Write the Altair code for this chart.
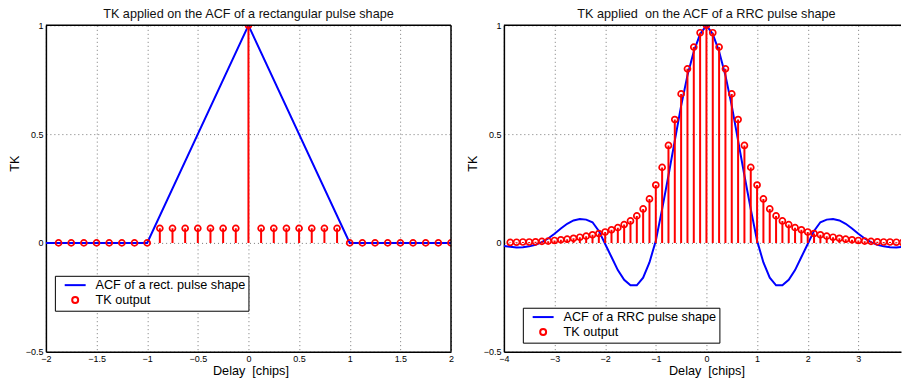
import altair as alt
import numpy as np
import pandas as pd

FONT = "Liberation Sans"
BLUE = "#0000ff"
RED = "#ff0000"
TK_LABEL = "TK output"
# short horizontal dash used as the legend swatch of the ACF curve
LINE_SWATCH = "M-3.5,0L3.5,0"

# ---- rectangular pulse: ACF (triangle) and TK output, 1/8-chip sampling ----
rect_acf_delay = [-2.0, -1.0, 0.0, 1.0, 2.0]
rect_acf = [0.0, 0.0, 1.0, 0.0, 0.0]

rect_tk_delay = np.arange(-15, 17) / 8.0          # -1.875 ... 2.0 chips
rect_tk = [0, 0, 0, 0, 0, 0, 0, 0,
           0.0667, 0.0667, 0.0667, 0.0667, 0.0667, 0.0667, 0.0667,
           1.0,
           0.0667, 0.0667, 0.0667, 0.0667, 0.0667, 0.0667, 0.0667,
           0, 0, 0, 0, 0, 0, 0, 0, 0]

# ---- RRC pulse: ACF and TK output, 1/8-chip sampling ----
rrc_acf_delay = np.arange(-32, 33) / 8.0          # -4 ... 4 chips
rrc_acf = [-0.014, -0.018, -0.021, -0.020, -0.016, -0.009, 0.003, 0.020,
           0.042, 0.066, 0.088, 0.103, 0.110, 0.107, 0.095, 0.055,
           -0.005, -0.065, -0.125, -0.170, -0.195, -0.195, -0.160, -0.090,
           0.010, 0.155, 0.310, 0.470, 0.630, 0.770, 0.880, 0.960,
           1.000,
           0.960, 0.880, 0.770, 0.630, 0.470, 0.310, 0.155, 0.010,
           -0.090, -0.160, -0.195, -0.195, -0.170, -0.125, -0.065, -0.005,
           0.055, 0.095, 0.107, 0.110, 0.103, 0.088, 0.066, 0.042,
           0.020, 0.003, -0.009, -0.016, -0.020, -0.021, -0.018, -0.014]

rrc_tk_delay = np.arange(-31, 33) / 8.0           # -3.875 ... 4 chips
rrc_tk = [0.002, 0.003, 0.004, 0.004, 0.005, 0.007, 0.008, 0.011,
          0.014, 0.017, 0.021, 0.026, 0.031, 0.037, 0.043, 0.050,
          0.060, 0.070, 0.084, 0.101, 0.124, 0.156, 0.202, 0.266,
          0.347, 0.448, 0.567, 0.685, 0.800, 0.900, 0.966,
          1.000,
          0.966, 0.900, 0.800, 0.685, 0.567, 0.448, 0.347, 0.266,
          0.202, 0.156, 0.124, 0.101, 0.084, 0.070, 0.060, 0.050,
          0.043, 0.037, 0.031, 0.026, 0.021, 0.017, 0.014, 0.011,
          0.008, 0.007, 0.005, 0.004, 0.004, 0.003, 0.002, 0.002]

y_ticks = [-0.5, 0, 0.5, 1]
rect_x_ticks = [-2, -1.5, -1, -0.5, 0, 0.5, 1, 1.5, 2]
rrc_x_ticks = [-4, -3, -2, -1, 0, 1, 2, 3]

HEIGHT = 327


def panel(acf_delay, acf_vals, tk_delay, tk_vals, title, acf_label,
          x_domain, x_ticks, width, legend_xy, x_title_pos, title_dx, right_frame):
    acf_df = pd.DataFrame({"delay": acf_delay, "value": acf_vals, "series": acf_label})
    tk_df = pd.DataFrame({"delay": tk_delay, "value": tk_vals, "series": TK_LABEL})

    names = [acf_label, TK_LABEL]
    stroke_scale = alt.Scale(domain=names, range=[BLUE, RED])
    shape_scale = alt.Scale(domain=names, range=[LINE_SWATCH, "circle"])
    legend = alt.Legend(
        title=None, orient="none", legendX=legend_xy[0], legendY=legend_xy[1],
        strokeColor="black", fillColor="white", padding=3, cornerRadius=0,
        labelFont=FONT, labelFontSize=12.7, labelColor="black", labelLimit=400,
        symbolSize=36, symbolStrokeWidth=2, symbolOffset=11, labelOffset=14,
        rowPadding=0, symbolFillColor="transparent",
    )

    x = alt.X("delay:Q",
              scale=alt.Scale(domain=x_domain, nice=False, zero=False),
              axis=alt.Axis(values=x_ticks, format="~g", title="Delay\u00a0 [chips]",
                            titleX=x_title_pos, titlePadding=1, labelFlush=False))
    y = alt.Y("value:Q",
              scale=alt.Scale(domain=[-0.5, 1], nice=False, zero=False),
              axis=alt.Axis(values=y_ticks, format="~g", title="TK", titleY=138,
                            titlePadding=4))

    acf_line = alt.Chart(acf_df).mark_line(strokeWidth=2, clip=True).encode(
        x=x, y=y,
        stroke=alt.Stroke("series:N", scale=stroke_scale, legend=legend),
    )
    stems = alt.Chart(tk_df).mark_rule(color=RED, strokeWidth=2, clip=True).encode(
        x="delay:Q", y="value:Q", y2=alt.datum(0),
    )
    heads = alt.Chart(tk_df).mark_point(filled=False, size=36, strokeWidth=1.7,
                                        opacity=1, clip=True).encode(
        x="delay:Q", y="value:Q",
        stroke=alt.Stroke("series:N", scale=stroke_scale, legend=legend),
        shape=alt.Shape("series:N", scale=shape_scale, legend=legend),
    )

    one = alt.Data(values=[{}])
    frame = [
        alt.Chart(one).mark_rule(color="black", strokeWidth=1.5).encode(
            x=alt.value(0), x2=alt.value(width), y=alt.value(0)),
    ]
    if right_frame:
        frame.append(alt.Chart(one).mark_rule(color="black", strokeWidth=1.5).encode(
            x=alt.value(width), y=alt.value(0), y2=alt.value(HEIGHT)))

    return alt.layer(acf_line, stems, heads, *frame).properties(
        width=width, height=HEIGHT,
        title=alt.TitleParams(title, fontSize=12.7, font=FONT, fontWeight="normal",
                              color="#111", anchor="middle", dx=title_dx, offset=1),
        view=alt.ViewBackground(stroke=None),
    )


left = panel(rect_acf_delay, rect_acf, rect_tk_delay, rect_tk,
             "TK applied on the ACF of a rectangular pulse shape",
             "ACF of a rect. pulse shape",
             [-2, 2], rect_x_ticks, 406, (9, 251), 205, 0, True)

right = panel(rrc_acf_delay, rrc_acf, rrc_tk_delay, rrc_tk,
              "TK applied\u00a0 on the ACF of a RRC pulse shape",
              "ACF of a RRC pulse shape",
              [-4, 3.842], rrc_x_ticks, 398, (19, 283), 203, 4, False)

chart = alt.hconcat(left, right, spacing=12).resolve_scale(
    stroke="independent", shape="independent"
).resolve_legend(stroke="independent", shape="independent").properties(
    padding={"left": 8, "top": 7, "right": 0, "bottom": 0},
    background="white",
).configure_axis(
    labelFont=FONT, labelFontSize=9, labelColor="black", labelPadding=3,
    titleFont=FONT, titleFontSize=12.7, titleFontWeight="normal", titleColor="black",
    domainColor="black", domainWidth=1.5, ticks=False,
    grid=True, gridColor="#777777", gridDash=[1, 3], gridWidth=1,
).configure_view(stroke=None)

chart.save("out.html", embed_options={"renderer": "svg", "actions": False})
